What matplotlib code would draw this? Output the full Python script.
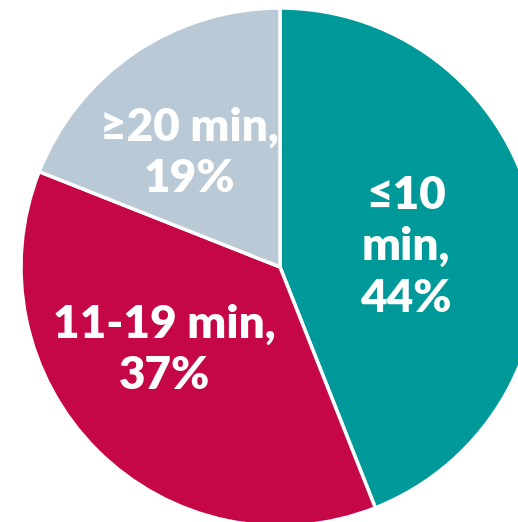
import matplotlib
matplotlib.use("Agg")
import matplotlib.pyplot as plt

# commute time shares
labels = ["\u226410\nmin,\n44%", "11-19 min,\n37%", "\u226520 min,\n19%"]
shares = [44, 37, 19]
colors = ["#009999", "#C50747", "#B9C9D6"]
# label anchors in pie data units (radius 1)
label_pos = [(0.486, 0.078), (-0.447, -0.319), (-0.35, 0.44)]

fig = plt.figure(figsize=(5.18, 5.22), dpi=100)
ax = fig.add_axes([0, 0, 1, 1])
ax.pie(
    shares,
    colors=colors,
    startangle=90,
    counterclock=False,
    radius=1.0,
    wedgeprops={"edgecolor": "white", "linewidth": 2.5},
)
for text, (x, y) in zip(labels, label_pos):
    ax.text(x, y, text, ha="center", va="center", color="white",
            fontsize=33, fontweight="heavy", family=["Lato", "DejaVu Sans"],
            linespacing=1.3)

# pie is cropped on the right and bottom in the reference
r_px = 259.0
cx, cy = 280.0, 267.0
ax.set_xlim(-cx / r_px, (518 - cx) / r_px)
ax.set_ylim((cy - 522) / r_px, cy / r_px)
ax.set_aspect("auto")
ax.axis("off")
fig.savefig("out.png", dpi=100)
